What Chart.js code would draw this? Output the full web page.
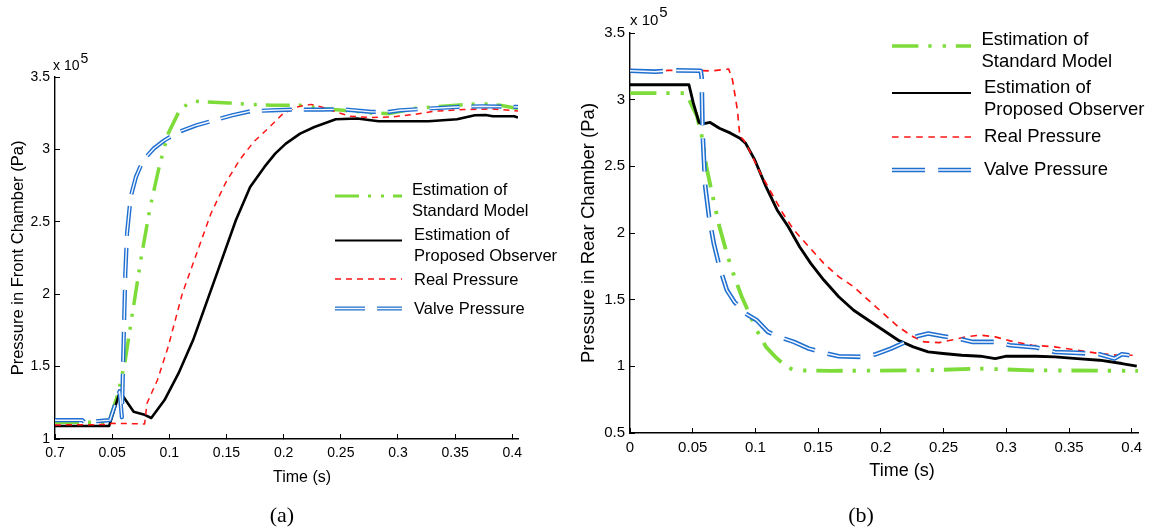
<!DOCTYPE html>
<html><head><meta charset="utf-8">
<script src="https://cdn.jsdelivr.net/npm/chart.js@4.4.1/dist/chart.umd.min.js"></script>
<style>
html,body{margin:0;padding:0;background:#fff;}
#wrap{position:relative;width:1155px;height:531px;overflow:hidden;background:#fff;}
#c1{position:absolute;left:0;top:0;}
#c2{position:absolute;left:575px;top:0;}
.cap{position:absolute;width:100px;text-align:center;font-family:"Liberation Serif","DejaVu Serif",serif;font-size:22px;line-height:22px;color:#000;}
</style></head>
<body>
<div id="wrap">
<canvas id="c1" width="575" height="531"></canvas>
<canvas id="c2" width="580" height="531"></canvas>
<div class="cap" style="left:232px;top:504px;">(a)</div>
<div class="cap" style="left:811px;top:504px;">(b)</div>
</div>
<script>
// ---------- tick labels ----------
const xTicksFront = ['0.7','0.05','0.1','0.15','0.2','0.25','0.3','0.35','0.4'];
const xTicksRear  = ['0','0.05','0.1','0.15','0.2','0.25','0.3','0.35','0.4'];
const yTicksFront = ['1','1.5','2','2.5','3','3.5'];
const yTicksRear  = ['0.5','1','1.5','2','2.5','3','3.5'];
const legendLabels = [['Estimation of','Standard Model'],['Estimation of','Proposed Observer'],['Real Pressure'],['Valve Pressure']];

// ---------- front chamber (a), pressure x 1e5 Pa ----------
const frontStdT = [0,0.047,0.0552,0.0615,0.0677,0.0755,0.0833,0.0911,0.099,0.1083,0.1161,0.1208,0.1333,0.152,0.1707,0.1894,0.2144,0.2331,0.2519,0.2768,0.2924,0.3143,0.3393,0.358,0.3736,0.3892,0.405];
const frontStdP = [1.115,1.115,1.315,1.545,1.867,2.258,2.603,2.879,3.109,3.259,3.316,3.334,3.327,3.321,3.311,3.305,3.305,3.282,3.27,3.252,3.247,3.282,3.298,3.309,3.316,3.305,3.282];
const frontObsT = [0,0.0474,0.0568,0.0688,0.0775,0.0842,0.0958,0.108,0.1208,0.1333,0.1458,0.1582,0.1707,0.1832,0.1926,0.2019,0.2144,0.2269,0.2456,0.2644,0.2831,0.3268,0.3517,0.3673,0.3767,0.383,0.4017,0.405];
const frontObsP = [1.09,1.09,1.327,1.188,1.17,1.145,1.269,1.453,1.683,1.959,2.235,2.511,2.741,2.879,2.971,3.04,3.109,3.155,3.208,3.213,3.194,3.194,3.208,3.236,3.238,3.229,3.229,3.22];
const frontRealT = [0,0.046,0.05,0.0784,0.0805,0.0896,0.099,0.1114,0.1239,0.1364,0.1489,0.1613,0.1738,0.1863,0.1988,0.2113,0.2238,0.2331,0.2456,0.2581,0.2768,0.2955,0.3143,0.333,0.358,0.383,0.405];
const frontRealP = [1.097,1.1,1.108,1.104,1.247,1.407,1.637,2.005,2.281,2.557,2.764,2.925,3.052,3.144,3.242,3.293,3.311,3.293,3.259,3.229,3.22,3.224,3.242,3.265,3.275,3.279,3.265];
const frontValveT = [0,0.024,0.026,0.032,0.04,0.048,0.0565,0.0585,0.0595,0.0615,0.063,0.0662,0.0708,0.0771,0.0864,0.0958,0.1083,0.1239,0.1395,0.1551,0.1707,0.1894,0.2082,0.2331,0.2519,0.2768,0.2924,0.3018,0.3268,0.3517,0.3736,0.405];
const frontValveP = [1.13,1.13,1.115,1.12,1.125,1.13,1.33,1.15,1.5,2.143,2.419,2.672,2.81,2.925,3.006,3.063,3.121,3.167,3.201,3.236,3.263,3.27,3.275,3.275,3.277,3.259,3.259,3.27,3.282,3.293,3.298,3.293];

// ---------- rear chamber (b), pressure x 1e5 Pa ----------
const rearStdT = [0,0.0446,0.0535,0.0579,0.0609,0.0654,0.0713,0.0772,0.0832,0.0891,0.0951,0.101,0.1084,0.1159,0.1233,0.1307,0.16,0.2347,0.2793,0.32,0.405];
const rearStdP = [3.049,3.049,2.874,2.699,2.498,2.298,2.047,1.847,1.672,1.522,1.396,1.271,1.146,1.071,1.008,0.97,0.966,0.97,0.983,0.97,0.966];
const rearObsT = [0,0.047,0.0505,0.055,0.0579,0.0639,0.0713,0.0802,0.0876,0.0921,0.0995,0.1084,0.1173,0.1262,0.1352,0.1441,0.1545,0.1664,0.1783,0.1901,0.202,0.2139,0.2258,0.2377,0.2496,0.2644,0.2793,0.2912,0.3001,0.3238,0.3387,0.3565,0.3743,0.3922,0.404];
const rearObsP = [3.112,3.112,2.974,2.829,2.819,2.829,2.786,2.749,2.711,2.674,2.548,2.348,2.173,2.047,1.897,1.772,1.647,1.522,1.421,1.346,1.271,1.196,1.146,1.108,1.096,1.083,1.076,1.058,1.076,1.076,1.071,1.058,1.046,1.021,1.001];
const rearRealT = [0,0.0238,0.03,0.05,0.065,0.0787,0.0817,0.0856,0.0876,0.0906,0.095,0.104,0.1129,0.1218,0.1307,0.1426,0.1545,0.1664,0.1783,0.1901,0.202,0.2139,0.2258,0.2347,0.2466,0.2585,0.2674,0.2793,0.2912,0.303,0.3208,0.3387,0.3565,0.3743,0.3892,0.404];
const rearRealP = [3.225,3.204,3.22,3.22,3.215,3.23,3.149,2.924,2.724,2.699,2.623,2.448,2.298,2.148,2.022,1.897,1.772,1.672,1.597,1.496,1.396,1.296,1.221,1.183,1.178,1.201,1.221,1.234,1.221,1.191,1.158,1.146,1.121,1.096,1.083,1.083];
const rearValveT = [0,0.02,0.035,0.0564,0.0571,0.0579,0.06,0.063,0.0668,0.0713,0.0772,0.0832,0.0921,0.101,0.1099,0.1188,0.1307,0.1426,0.1545,0.1664,0.1842,0.1961,0.208,0.2198,0.2288,0.2377,0.2496,0.2614,0.2733,0.2912,0.303,0.3238,0.3387,0.3565,0.3743,0.3862,0.3922,0.404];
const rearValveP = [3.217,3.21,3.22,3.217,3.17,2.749,2.348,2.123,1.922,1.747,1.572,1.484,1.396,1.346,1.259,1.221,1.183,1.133,1.101,1.076,1.071,1.091,1.133,1.183,1.226,1.246,1.226,1.208,1.183,1.183,1.158,1.141,1.108,1.101,1.091,1.058,1.091,1.076];

// ---------- styles ----------
const FONT = '"Liberation Sans", Arial, sans-serif';
const STYLE = {
  std:  {color:'#7ddc3a', width:3.5, dash:[24,9,3,10,3,9]},
  obs:  {color:'#000000', width:2.6, dash:[]},
  real: {color:'#ff1414', width:1.5, dash:[6,5]},
  valve:{color:'#1f6fd0', width:4.2, dash:[30,12], inner:'#f4f8fe', innerWidth:1.4}
};
const LEGEND_KEYS = ['std','obs','real','valve'];

function pts(t, p){ return t.map((x,i)=>({x:x, y:p[i]})); }
function lineDs(label, data, color, width, dash, order){
  return {label, data, borderColor:color, backgroundColor:color, borderWidth:width,
          borderDash:dash, pointRadius:0, tension:0, fill:false, order, borderCapStyle:'butt', borderJoinStyle:'round'};
}
function datasets(std, obs, real, valve, k){
  const sc = (d) => d.map(v => v * k);
  return [
    lineDs('Estimation of Standard Model', std, STYLE.std.color, STYLE.std.width * k, sc(STYLE.std.dash), 5),
    lineDs('Estimation of Proposed Observer', obs, STYLE.obs.color, STYLE.obs.width * k, STYLE.obs.dash, 4),
    lineDs('Real Pressure', real, STYLE.real.color, STYLE.real.width * k, sc(STYLE.real.dash), 3),
    lineDs('Valve Pressure', valve, STYLE.valve.color, STYLE.valve.width * k, sc(STYLE.valve.dash), 2),
    lineDs('Valve Pressure (inner)', valve, STYLE.valve.inner, STYLE.valve.innerWidth * k, sc(STYLE.valve.dash), 1)
  ];
}

function drawSample(ctx, key, x0, x1, y, legendWidths, k){
  const st = STYLE[key];
  ctx.save();
  ctx.lineCap = 'butt';
  ctx.setLineDash(st.dash.map(v => v * k));
  ctx.strokeStyle = st.color; ctx.lineWidth = legendWidths[key];
  ctx.beginPath(); ctx.moveTo(x0, y); ctx.lineTo(x1, y); ctx.stroke();
  if (key === 'valve') {
    ctx.strokeStyle = st.inner; ctx.lineWidth = st.innerWidth * k;
    ctx.beginPath(); ctx.moveTo(x0, y); ctx.lineTo(x1, y); ctx.stroke();
  }
  ctx.restore();
}

const overlay = {
  id: 'overlay',
  afterDraw(chart, args, o){
    const ctx = chart.ctx;
    ctx.save();
    const L = o.legend;
    L.rows.forEach((row, i) => {
      drawSample(ctx, LEGEND_KEYS[i], L.x0, L.x1, row.y, L.widths, o.k);
      ctx.fillStyle = '#000';
      ctx.font = L.font + 'px ' + FONT;
      ctx.textAlign = 'left'; ctx.textBaseline = 'middle';
      legendLabels[i].forEach((txt, j) => ctx.fillText(txt, row.tx, row.ty[j]));
    });
    // x-axis title
    ctx.font = o.xTitle.size + 'px ' + FONT;
    ctx.textAlign = 'center'; ctx.textBaseline = 'middle';
    ctx.fillText(o.xTitle.text, o.xTitle.x, o.xTitle.y);
    // exponent
    ctx.font = o.exp.size + 'px ' + FONT;
    ctx.textAlign = 'left'; ctx.textBaseline = 'alphabetic';
    ctx.fillText('x 10', o.exp.x, o.exp.y);
    const w = ctx.measureText('x 10').width;
    ctx.fillText('5', o.exp.x + w + 1, o.exp.y - o.exp.raise);
    ctx.restore();
  }
};

function makeChart(id, cfg){
  const xLabels = cfg.xLabels, yLabels = cfg.yLabels;
  return new Chart(document.getElementById(id), {
    type: 'line',
    data: { datasets: cfg.datasets },
    options: {
      responsive: false, animation: false, devicePixelRatio: 1,
      layout: { padding: { top: cfg.padTop, right: cfg.padRight, left: 0, bottom: 0 } },
      plugins: { legend: { display: false }, tooltip: { enabled: false }, overlay: cfg.overlay },
      scales: {
        x: {
          type: 'linear', min: 0, max: cfg.xMax,
          border: { display: true, color: '#000', width: 1.4 },
          grid: { display: true, drawOnChartArea: false, drawTicks: true, tickLength: -5, color: '#000', lineWidth: 1 },
          ticks: { stepSize: 0.05, includeBounds: false, padding: cfg.xPad, color: '#000', maxRotation: 0, autoSkip: false,
                   font: { family: FONT, size: cfg.tickSize },
                   callback: (v) => xLabels[Math.round(v / 0.05)] },
          afterFit: (s) => { s.height = cfg.xHeight; }
        },
        y: {
          type: 'linear', min: cfg.yMin, max: 3.5,
          border: { display: true, color: '#000', width: 1.4 },
          grid: { display: true, drawOnChartArea: false, drawTicks: true, tickLength: -5, color: '#000', lineWidth: 1 },
          ticks: { stepSize: 0.5, includeBounds: false, padding: 10, color: '#000', autoSkip: false,
                   font: { family: FONT, size: cfg.tickSize },
                   callback: (v) => yLabels[Math.round((v - cfg.yMin) / 0.5)] },
          title: { display: true, text: cfg.yTitle, color: '#000', font: { family: FONT, size: cfg.titleSize }, padding: { top: cfg.yTitlePad, bottom: 0 } },
          afterFit: (s) => { s.width = 55; }
        }
      }
    },
    plugins: [overlay]
  });
}

makeChart('c1', {
  datasets: datasets(pts(frontStdT, frontStdP), pts(frontObsT, frontObsP), pts(frontRealT, frontRealP), pts(frontValveT, frontValveP), 1),
  xLabels: xTicksFront, yLabels: yTicksFront, xMax: 0.405, yMin: 1,
  padTop: 77, padRight: 57, xHeight: 92, xPad: 10.5, tickSize: 14, titleSize: 16.5, yTitlePad: 9,
  yTitle: 'Pressure in Front Chamber (Pa)',
  overlay: {
    k: 1,
    legend: { x0: 335, x1: 402, font: 16.5, widths: {std: 3.2, obs: 2, real: 1.5, valve: 4.2},
      rows: [ {y: 196, tx: 412, ty: [190.5, 211.5]}, {y: 240.5, tx: 414, ty: [235, 256]},
              {y: 279, tx: 414, ty: [280]}, {y: 308.5, tx: 414, ty: [309]} ] },
    xTitle: { text: 'Time (s)', x: 302, y: 478, size: 16 },
    exp: { x: 53, y: 70, size: 14, raise: 7 }
  }
});

makeChart('c2', {
  datasets: datasets(pts(rearStdT, rearStdP), pts(rearObsT, rearObsP), pts(rearRealT, rearRealP), pts(rearValveT, rearValveP), 1.1),
  xLabels: xTicksRear, yLabels: yTicksRear, xMax: 0.405, yMin: 0.5,
  padTop: 33, padRight: 17, xHeight: 98, xPad: 10.5, tickSize: 15, titleSize: 18.5, yTitlePad: 3,
  yTitle: 'Pressure in Rear Chamber (Pa)',
  overlay: {
    k: 1.1,
    legend: { x0: 317, x1: 396, font: 18.5, widths: {std: 3.5, obs: 2.2, real: 1.6, valve: 4.6},
      rows: [ {y: 46, tx: 406.5, ty: [40, 62]}, {y: 93, tx: 409, ty: [88, 110]},
              {y: 137, tx: 409, ty: [137]}, {y: 170, tx: 409, ty: [170]} ] },
    xTitle: { text: 'Time (s)', x: 327, y: 471.5, size: 18 },
    exp: { x: 55, y: 25, size: 15, raise: 8 }
  }
});
</script>
</body></html>
